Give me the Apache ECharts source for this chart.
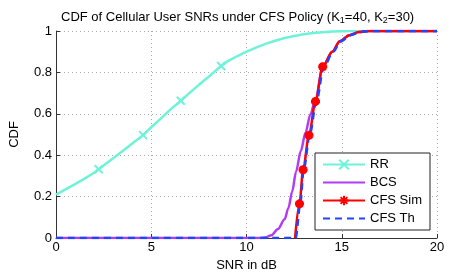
<!DOCTYPE html>
<html><head><meta charset="utf-8">
<script src="https://cdn.jsdelivr.net/npm/echarts@6/dist/echarts.min.js"></script>
<style>html,body{margin:0;padding:0;background:#fff}#c{width:450px;height:277px}</style>
</head><body><div id="c"></div>
<script>
const seriesNames = ['RR', 'BCS', 'CFS Sim', 'CFS Th'];
const xTicks = [0, 5, 10, 15, 20];
const yTicks = [0, 0.2, 0.4, 0.6, 0.8, 1];

const rrX = [0, 0.5, 1, 1.5, 2, 2.24, 2.5, 3, 3.5, 4, 4.57, 5, 5.5, 6, 6.55, 7, 7.5, 8, 8.5, 8.67, 9, 9.5, 10, 10.5, 11, 11.5, 12, 12.5, 13, 13.5, 14, 14.5, 15, 15.5, 16, 18, 20];
const rrY = [0.21, 0.235, 0.26, 0.287, 0.315, 0.332, 0.35, 0.385, 0.42, 0.457, 0.497, 0.535, 0.577, 0.62, 0.663, 0.7, 0.74, 0.778, 0.818, 0.831, 0.853, 0.878, 0.9, 0.92, 0.938, 0.953, 0.966, 0.976, 0.984, 0.99, 0.994, 0.997, 0.999, 1, 1, 1, 1];
const rrMarkX = [2.24, 4.57, 6.55, 8.67];

const bcsX = [0, 10.7, 11, 11.3, 11.65, 12.0, 12.2, 12.4, 12.6, 12.85, 13.1, 13.35, 13.62, 14.0, 14.5, 14.9, 15.4, 15.9, 16.4, 18, 20];
const bcsY = [0, 0, 0.003, 0.013, 0.043, 0.09, 0.145, 0.225, 0.32, 0.42, 0.51, 0.595, 0.67, 0.827, 0.9, 0.95, 0.98, 0.995, 1, 1, 1];

const simX = [12.55, 12.78, 12.97, 13.28, 13.62, 14.0, 14.5, 14.9, 15.4, 15.9, 16.4, 18, 20];
const simY = [0, 0.165, 0.33, 0.496, 0.66, 0.827, 0.9, 0.95, 0.98, 0.995, 1, 1, 1];
const simMarkX = [12.78, 12.97, 13.28, 13.62, 14.0];

const thX = [0, 12.58, 12.82, 13.0, 13.32, 13.67, 14.05, 14.55, 14.95, 15.45, 15.95, 16.45, 18, 20];
const thY = [0, 0, 0.165, 0.33, 0.5, 0.66, 0.825, 0.9, 0.95, 0.98, 0.995, 1, 1, 1];

function build(xs, ys, marks) {
  return xs.map((x, i) => {
    const show = marks && marks.indexOf(x) >= 0;
    return show ? { value: [x, ys[i]] } : { value: [x, ys[i]], symbol: 'none' };
  });
}

const xMark = 'path://M0,0L10,10M10,0L0,10';
const starMark = 'path://M5,0L5,10M0,5L10,5M1.5,1.5L8.5,8.5M8.5,1.5L1.5,8.5';

const chart = echarts.init(document.getElementById('c'), null, { renderer: 'canvas' });
const font = 'Liberation Sans, Arial, sans-serif';
chart.setOption({
  animation: false,
  backgroundColor: '#fff',
  title: {
    text: 'CDF of Cellular User SNRs under CFS Policy (K{s|1}=40, K{s|2}=30)',
    left: 56, top: 5,
    textStyle: {
      fontFamily: font, fontSize: 13, fontWeight: 'normal', color: '#000',
      rich: { s: { fontFamily: font, fontSize: 9, verticalAlign: 'bottom', padding: [6, 0, 0, 0], color: '#000' } }
    }
  },
  grid: { left: 50, right: 13, top: 31, bottom: 35 },
  legend: {
    orient: 'vertical', left: 315, top: 153,
    backgroundColor: '#fff', borderColor: '#222', borderWidth: 1,
    padding: [5, 8, 5, 7], itemGap: 5, itemWidth: 42, itemHeight: 12,
    textStyle: { fontFamily: font, fontSize: 13, color: '#000' },
    data: seriesNames
  },
  xAxis: {
    type: 'value', min: xTicks[0], max: xTicks[xTicks.length - 1], interval: 5,
    name: 'SNR in dB', nameLocation: 'middle', nameGap: 21,
    nameTextStyle: { fontFamily: font, fontSize: 13, color: '#000' },
    axisLine: { lineStyle: { color: '#333', width: 1 } },
    axisTick: { inside: true, length: 4, lineStyle: { color: '#333' } },
    axisLabel: { fontFamily: font, fontSize: 13, color: '#000', margin: 3 },
    splitLine: { show: true, lineStyle: { color: '#aaa', type: [1, 3], width: 1 } }
  },
  yAxis: {
    type: 'value', min: yTicks[0], max: yTicks[yTicks.length - 1], interval: 0.2,
    name: 'CDF', nameLocation: 'middle', nameGap: 35,
    nameTextStyle: { fontFamily: font, fontSize: 13, color: '#000' },
    axisLine: { show: true, lineStyle: { color: '#333', width: 1 } },
    axisTick: { show: true, inside: true, length: 4, lineStyle: { color: '#333' } },
    axisLabel: { fontFamily: font, fontSize: 13, color: '#000', margin: 4 },
    splitLine: { show: true, lineStyle: { color: '#aaa', type: [1, 3], width: 1 } }
  },
  series: [
    {
      name: seriesNames[0], type: 'line', data: build(rrX, rrY, rrMarkX),
      smooth: false, symbol: xMark, symbolSize: 8,
      lineStyle: { color: '#6ef3d8', width: 2.5 },
      itemStyle: { color: '#6ef3d8', borderColor: '#6ef3d8', borderWidth: 2 }
    },
    {
      name: seriesNames[1], type: 'line', data: build(bcsX, bcsY, null),
      smooth: 0.3, smoothMonotone: 'x', symbol: 'circle', symbolSize: 1,
      lineStyle: { color: '#b23cf5', width: 2.5 },
      itemStyle: { color: 'rgba(0,0,0,0)', borderWidth: 0 }
    },
    {
      name: seriesNames[2], type: 'line', data: build(simX, simY, simMarkX),
      smooth: 0.3, smoothMonotone: 'x', symbol: starMark, symbolSize: 9,
      lineStyle: { color: '#ff0000', width: 2.5 },
      itemStyle: { color: '#ff0000', borderColor: '#ff0000', borderWidth: 3 }
    },
    {
      name: seriesNames[3], type: 'line', data: build(thX, thY, null),
      smooth: 0.3, smoothMonotone: 'x', symbol: 'circle', symbolSize: 1,
      lineStyle: { color: '#2244ff', width: 2.5, type: [7, 5] },
      itemStyle: { color: 'rgba(0,0,0,0)', borderWidth: 0 }
    }
  ]
});
</script></body></html>
